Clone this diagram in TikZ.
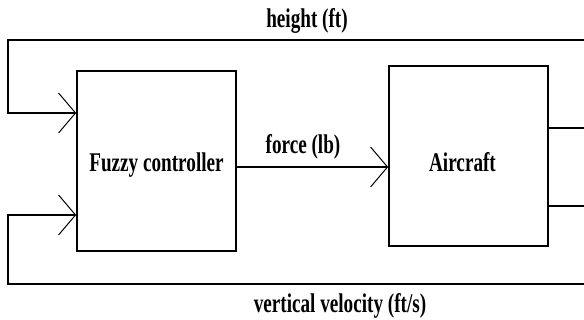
\documentclass[tikz,border=0pt]{standalone}
\usepackage{fontspec}
\setmainfont{Liberation Serif}[FakeStretch=0.71]
\usetikzlibrary{arrows.meta}
\begin{document}
\begin{tikzpicture}[x=1pt,y=-1pt,
  blk/.style={draw, line width=1.6pt, minimum width=159pt, minimum height=180pt, inner sep=0pt, font=\fontsize{27}{30}\selectfont\bfseries},
  lbl/.style={font=\fontsize{27}{30}\selectfont\bfseries, inner sep=0pt},
  wire/.style={line width=1.6pt},
  arr/.style={wire, -{Straight Barb[length=17pt,width=40pt,line width=1pt]}}]
\useasboundingbox (0,0) rectangle (584,320);
\node[blk] (ctrl) at (156.5,161) {\raisebox{-11pt}[0pt][0pt]{Fuzzy controller}};
\node[blk] (air) at (468.5,156) {\hspace*{-12pt}\raisebox{-16pt}[0pt][0pt]{Aircraft}};
\coordinate (tr) at (586,40);
\coordinate (br) at (586,284);
\coordinate (o1) at (586,128);
\coordinate (o2) at (586,206);
\node[lbl] (h) at (307,21) {height (ft)};
\node[lbl] (f) at (303,147) {force (lb)};
\node[lbl] (v) at (340,306) {vertical velocity (ft/s)};
\draw[arr] (tr) -- (8,40) -- (8,113) -- (ctrl.west |- 0,113);
\draw[arr] (br) -- (8,284) -- (8,215) -- (ctrl.west |- 0,215);
\draw[arr] (ctrl.east |- 0,167) -- (air.west |- 0,167);
\draw[wire] (air.east |- o1) -- (o1);
\draw[wire] (air.east |- o2) -- (o2);
\end{tikzpicture}
\end{document}
